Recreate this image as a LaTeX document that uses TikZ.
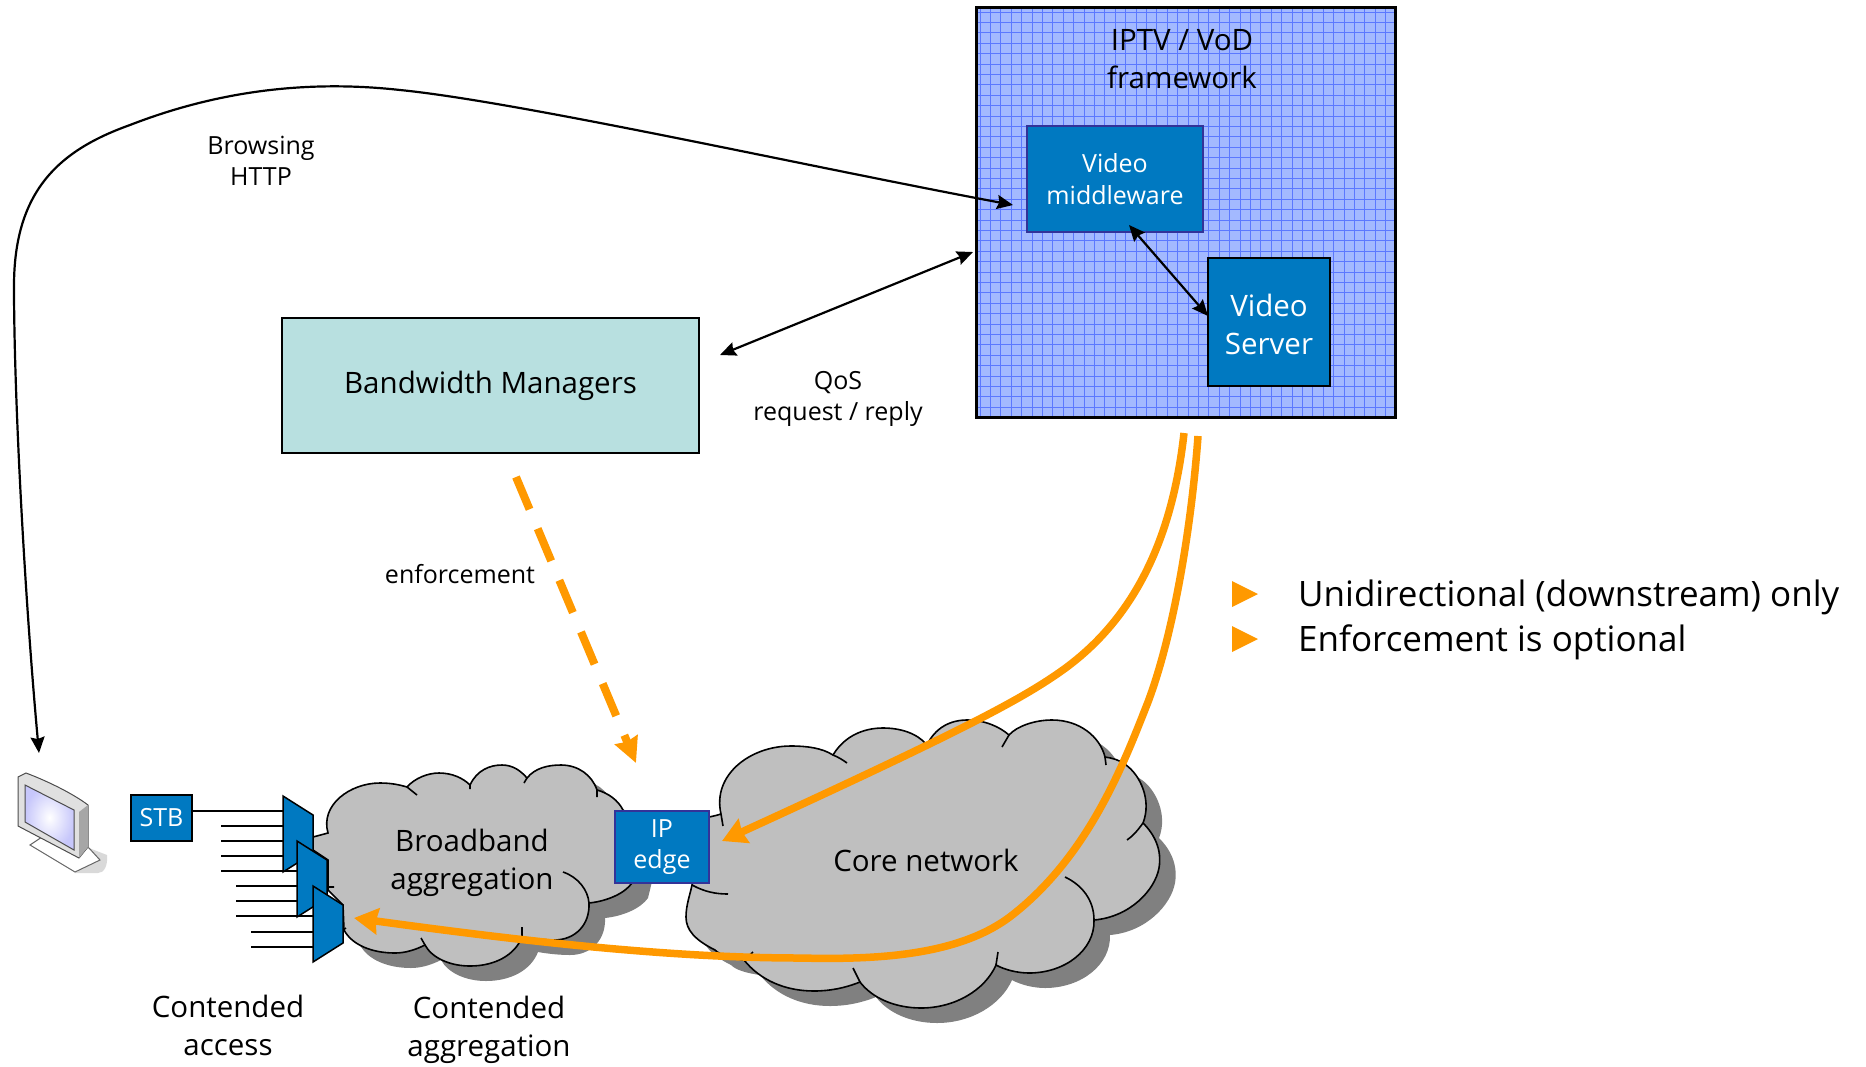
\documentclass[tikz,border=0pt]{standalone}
\usepackage{fontspec}
\setmainfont{Open Sans}
\usetikzlibrary{arrows.meta,shapes.geometric}

\definecolor{boxblue}{HTML}{0079C1}
\definecolor{boxedge}{HTML}{333399}
\definecolor{meshbase}{HTML}{A3B9FF}
\definecolor{meshline}{HTML}{5B78FF}
\definecolor{paleteal}{HTML}{B8E0E0}
\definecolor{flow}{HTML}{FF9900}
\definecolor{cloudgrey}{HTML}{BFBFBF}
\definecolor{cloudshade}{HTML}{808080}

\tikzset{
    bigtext/.style={font=\fontsize{29.5}{38}\selectfont, align=center, inner sep=0pt},
    smalltext/.style={font=\fontsize{25}{31.5}\selectfont, align=center, inner sep=0pt},
    bluebox/.style={fill=boxblue, draw=boxedge, line width=2.5pt, inner sep=0pt, text=white},
    thinarrow/.style={line width=2.2pt, {Stealth[length=16pt,width=14pt,inset=2pt]}-{Stealth[length=16pt,width=14pt,inset=2pt]}},
    flowarrow/.style={flow, line width=7.5pt, -{Stealth[length=24pt,width=26pt,inset=2pt]}},
    cloudline/.style={line width=1.6pt, draw=black},
    muxline/.style={line width=1.6pt, draw=black}
}

% cloud outlines
\newcommand{\corecloud}{(709,817) .. controls (714,816) and (718,815) .. (721,814)
    .. controls (712,775) and (750,746) .. (791,746) .. controls (807,746) and (822,748) .. (833,755)
    .. controls (845,735) and (865,728) .. (883,728) .. controls (900,728) and (917,733) .. (927,745)
    .. controls (935,728) and (950,720) .. (967,720) .. controls (985,720) and (1000,727) .. (1009,735)
    .. controls (1017,726) and (1035,720) .. (1052,720) .. controls (1080,720) and (1100,737) .. (1105,757)
    .. controls (1112,758) and (1120,760) .. (1126,765) .. controls (1140,775) and (1152,800) .. (1143,823)
    .. controls (1155,835) and (1162,850) .. (1159,868) .. controls (1155,890) and (1130,917) .. (1094,920)
    .. controls (1095,950) and (1065,973) .. (1029,973) .. controls (1018,973) and (1005,970) .. (996,965)
    .. controls (985,990) and (955,1008) .. (921,1008) .. controls (895,1008) and (872,998) .. (860,982)
    .. controls (845,988) and (830,991) .. (814,991) .. controls (785,991) and (760,980) .. (744,960)
    .. controls (730,958) and (720,955) .. (715,950) .. controls (695,940) and (686,930) .. (686,917)
    .. controls (686,905) and (690,895) .. (692,885) -- cycle}
\newcommand{\edgecloud}{(313,837) -- (328,833)
    .. controls (320,805) and (350,783) .. (380,783) .. controls (392,783) and (400,785) .. (407,787)
    .. controls (415,778) and (428,773) .. (439,773) .. controls (452,773) and (463,778) .. (470,785)
    .. controls (477,770) and (490,765) .. (502,765) .. controls (513,765) and (521,771) .. (527,778)
    .. controls (535,768) and (548,765) .. (561,765) .. controls (578,765) and (592,775) .. (597,790)
    .. controls (608,793) and (618,800) .. (623,810) -- (640,850) -- (632,883)
    .. controls (625,893) and (608,901) .. (589,903) .. controls (590,925) and (575,940) .. (554,940)
    .. controls (545,940) and (533,939) .. (522,937) .. controls (515,955) and (495,966) .. (470,966)
    .. controls (450,966) and (432,958) .. (425,945) .. controls (415,950) and (405,953) .. (395,953)
    .. controls (372,953) and (352,945) .. (344,930) -- (343,905) -- (328,890) -- (328,860) -- (313,850) -- cycle}

\begin{document}
\begin{tikzpicture}[x=1pt, y=-1pt]
    \useasboundingbox (0,0) rectangle (1866,1066);

    % IPTV / VoD framework with its mesh
    \fill[meshbase] (976,7) rectangle (1395,417);
    \foreach \i in {0,...,39} {
        \draw[meshline, line width=0.7pt] (980+10.4*\i,7) -- (980+10.4*\i,417);
        \ifnum\i<39
            \draw[meshline, line width=0.7pt] (976,12+10.4*\i) -- (1395,12+10.4*\i);
        \fi
    }
    \node[draw=black, line width=3pt, minimum width=419pt, minimum height=410pt, inner sep=0pt] (iptv) at (1185.5,212) {};
    \node[bigtext] (iptvtitle) at (1182,59) {IPTV / VoD\\framework};
    \node[bluebox, minimum width=176pt, minimum height=106pt, smalltext] (mware) at (1115,179) {\raisebox{0pt}{Video}\\middleware};
    \node[cylinder, shape border rotate=90, shape aspect=3.4, draw=black, line width=2pt, fill=boxblue, cylinder uses custom fill,
        cylinder body fill=boxblue, cylinder end fill=boxblue, minimum width=122pt, minimum height=128pt,
        inner sep=0pt] (vserver) at (1269,322) {};
    \node[bigtext, text=white] (vservertext) at (1269,324) {Video\\Server};

    % Bandwidth managers
    \node[draw=black, line width=2.5pt, fill=paleteal, minimum width=417pt, minimum height=135pt, bigtext] (bwm) at (490.5,385.5) {\raisebox{-6pt}{Bandwidth Managers}};

    % Clouds with their shadows
    \fill[cloudshade, shift={(16,15)}] \edgecloud;
    \filldraw[fill=cloudgrey, cloudline] \edgecloud;
    \draw[cloudline] (407,787) -- (417,795) (470,785) -- (470,789) (527,778) -- (524,783) (597,790) -- (597,797)
        (589,903) .. controls (588,890) and (578,877) .. (563,872) (522,937) -- (522,927) (425,945) -- (421,938)
        (334,887) -- (328,887) (346,928) -- (343,930);
    \fill[cloudshade, shift={(16,15)}] \corecloud;
    \filldraw[fill=cloudgrey, cloudline] \corecloud;
    \draw[cloudline] (833,755) .. controls (838,757) and (843,760) .. (847,763) (1009,735) -- (1002,747) (1105,757) -- (1106,765)
        (1143,823) .. controls (1138,830) and (1133,836) .. (1127,840)
        (1094,920) .. controls (1094,900) and (1082,885) .. (1065,877) (996,965) -- (998,952) (860,982) -- (853,968)
        (744,960) -- (753,952) (692,885) .. controls (705,892) and (716,894) .. (728,894) (721,814) -- (723,826);
    \node[bigtext] (edgelabel) at (472,863) {Broadband\\aggregation};
    \node[bigtext] (corelabel) at (926,860) {Core network};
    \node[bluebox, minimum width=94pt, minimum height=72pt, smalltext] (ipedge) at (662,847) {\raisebox{-5pt}{IP}\\\raisebox{-5pt}{edge}};

    % Access lines and multiplexers
    \node[fill=boxblue, draw=black, line width=2pt, minimum width=61pt, minimum height=46pt, smalltext, text=white] (stb) at (161.5,818) {\raisebox{-2pt}{STB}};
    \coordinate (muxa) at (283,811);
    \coordinate (muxb) at (297,856);
    \coordinate (muxc) at (313,901);
    \draw[muxline] (stb.east |- muxa) -- (muxa);
    \foreach \j in {826,841,856,871} {
        \draw[muxline] (221,\j) -- (283,\j);
    }
    \foreach \j in {856,871,886,901,916} {
        \draw[muxline] (236,\j) -- (297,\j);
    }
    \foreach \j in {901,916,932,947} {
        \draw[muxline] (251,\j) -- (313,\j);
    }
    \foreach \mx/\my in {283/796,297/841,313/886} {
        \filldraw[fill=boxblue, draw=black, line width=1.5pt, shift={(\mx,\my)}] (0,0) -- (30,19) -- (30,57) -- (0,76) -- cycle;
    }

    % Set top monitor
    \fill[black!15] (89,848) -- (107,855) .. controls (108,866) and (104,873) .. (98,873) -- (75,873) -- cycle;
    \filldraw[fill=white, draw=black!60, line width=1pt] (30,845) -- (75,872) -- (100,860) -- (89,848) -- (45,835) -- cycle;
    \filldraw[fill=black!12, draw=black!70, line width=1pt] (18,777) -- (26,773) .. controls (50,782) and (75,795) .. (88,805) -- (88,847) -- (79,858) -- (18,826) -- cycle;
    \fill[black!35] (79,812) -- (88,805) -- (88,847) -- (79,858) -- cycle;
    \shade[inner color=white, outer color=black!8!blue!22, draw=black!70, line width=1pt] (25,785) -- (74,810) -- (74,850) -- (25,822) -- cycle;
    \coordinate (tvtop) at (39,753);

    % Free ends of the arrows
    \coordinate (mwleft) at (1013,205);
    \coordinate (mwlow) at (1129,225);
    \coordinate (vsleft) at (1208,316);
    \coordinate (fwleft) at (973,252);
    \coordinate (bwright) at (720,355);
    \coordinate (bwlow) at (516,477);
    \coordinate (edgetop) at (636,763);
    \coordinate (fwlowa) at (1184,433);
    \coordinate (fwlowb) at (1198,436);
    \coordinate (edgearrow) at (722,841);
    \coordinate (muxarrow) at (354,918);

    % Black arrows
    \draw[thinarrow] (tvtop) .. controls (25,600) and (14,400) .. (14,286) .. controls (14,190) and (60,150) .. (130,125)
        .. controls (220,90) and (310,80) .. (400,90) .. controls (520,102) and (800,165) .. (mwleft);
    \draw[thinarrow] (bwright) -- (fwleft);
    \draw[thinarrow] (mwlow) -- (vsleft);

    % Orange arrows
    \draw[flow, line width=8pt, dash pattern=on 35pt off 21pt, -{Stealth[length=25pt,width=24pt,inset=2pt]}] (bwlow) -- (edgetop);
    \draw[flowarrow] (fwlowa) .. controls (1170,560) and (1120,630) .. (1060,672) .. controls (1020,700) and (960,732) .. (edgearrow);
    \draw[flowarrow] (fwlowb) .. controls (1192,520) and (1175,630) .. (1148,702) .. controls (1125,760) and (1090,855) .. (1011,916)
        .. controls (960,955) and (880,960) .. (800,958) .. controls (660,958) and (500,938) .. (muxarrow);

    % Labels
    \node[smalltext] (browsing) at (261,161) {Browsing\\HTTP};
    \node[smalltext] (qos) at (838,399) {QoS\\request / reply};
    \node[smalltext] (enforcement) at (460,574) {enforcement};
    \node[bigtext] (accesslabel) at (228,1025) {Contended\\access};
    \node[bigtext] (agglabel) at (489,1030) {Contended\\aggregation};

    % Notes
    \foreach \j in {594,639} {
        \fill[flow] (1232,\j-13) -- (1258,\j) -- (1232,\j+13) -- cycle;
    }
    \node[bigtext, anchor=west, font=\fontsize{35}{38}\selectfont] (notea) at (1298,597) {Unidirectional (downstream) only};
    \node[bigtext, anchor=west, font=\fontsize{35}{38}\selectfont] (noteb) at (1298,642) {Enforcement is optional};

\end{tikzpicture}
\end{document}
